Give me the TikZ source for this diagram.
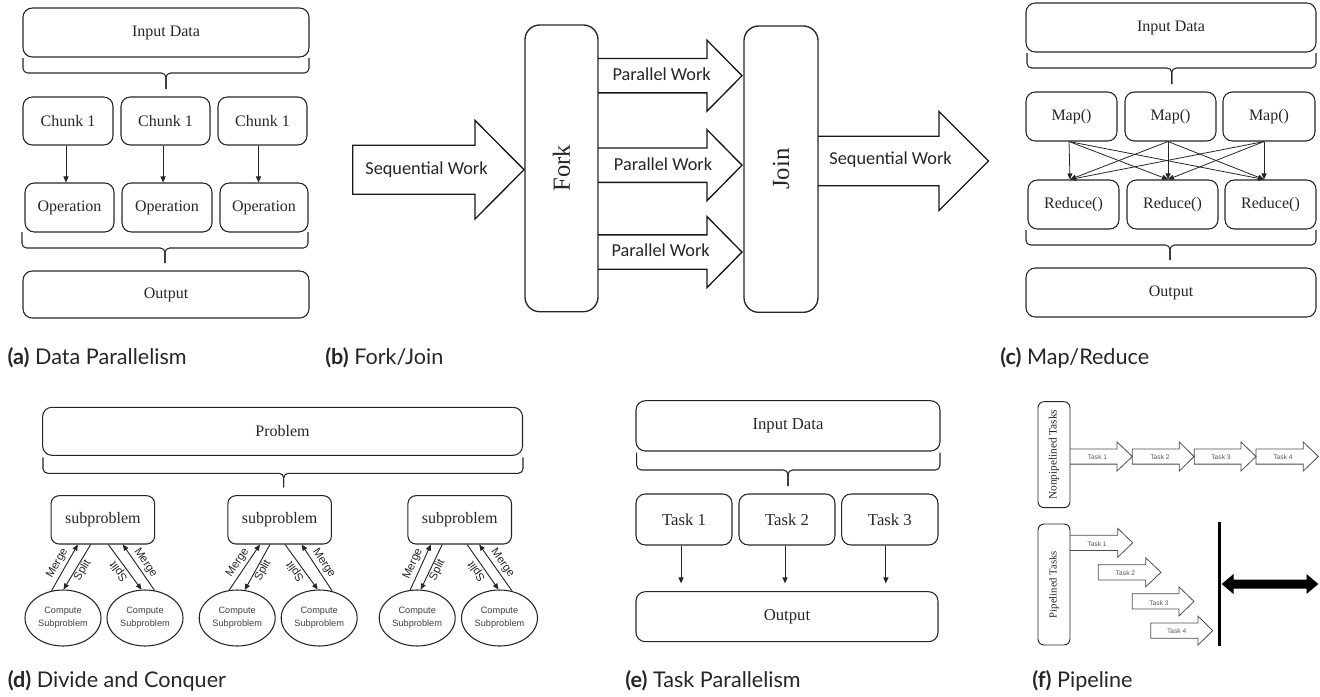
\documentclass[tikz,border=0pt]{standalone}
\usepackage{fontspec}
\setmainfont{Liberation Serif}
\newfontfamily\capfont{Lato}
\newfontfamily\arial{Liberation Sans}
\newfontfamily\aptos{Carlito}
\usetikzlibrary{arrows.meta,shapes.geometric,calc}
\newcommand\rbx[7][]{\node[rbox,#1,minimum width={((#5)-(#3))*0.75pt},minimum height={((#6)-(#4))*0.75pt}] (#2) at ({((#3)+(#5))/2},{((#4)+(#6))/2}) {#7};}
\newcommand\brc[6]{\draw[brc] (#1,#3) |- (#6,#4) -- (#6,#5); \draw[brc] (#2,#3) |- (#6,#4) -- (#6,#5);}
% block arrow: x0, head base, tip, centre y, shaft half, head half
\newcommand\barrowo[7][blk]{\draw[#1] (#2,#5-#6) -- (#3,#5-#6) -- (#3,#5-#7) -- (#4,#5) -- (#3,#5+#7) -- (#3,#5+#6) -- (#2,#5+#6);}
\newcommand\barrowc[7][blk]{\draw[#1] (#2,#5-#6) -- (#3,#5-#6) -- (#3,#5-#7) -- (#4,#5) -- (#3,#5+#7) -- (#3,#5+#6) -- (#2,#5+#6) -- cycle;}
\begin{document}
\begin{tikzpicture}[x=0.75pt,y=-0.75pt,
 rbox/.style={draw=black!85, line width=0.8pt, rounded corners=7pt, inner sep=0pt, text=black!85, font=\fontsize{12}{14}\selectfont},
 arr/.style={draw=black!85, line width=0.7pt, -{Triangle[length=4.5pt,width=3.8pt]}},
 arrR/.style={draw=black!85, line width=0.7pt, {Triangle[length=4.5pt,width=3.8pt]}-},
 brc/.style={draw=black!85, line width=0.8pt, rounded corners=3.5pt},
 blk/.style={draw=black!90, line width=1pt, line join=miter},
 seq/.style={font=\aptos\fontsize{13.7}{16}\selectfont, text=black!85},
 captxt/.style={anchor=base west, font=\capfont\fontsize{16.2}{19}\selectfont, text=black!85, inner sep=0pt},
 ell/.style={draw=black!85, line width=0.8pt, ellipse, minimum width=57pt, minimum height=42pt, inner sep=0pt, align=center, font=\arial\fontsize{6.9}{9.75}\selectfont, text=black!75},
 dlab/.style={font=\arial\fontsize{8.5}{10}\selectfont, text=black!85, inner sep=0.6pt},
 pbox/.style={rbox, rounded corners=4.5pt, line width=0.7pt},
 parr/.style={draw=black!70, line width=0.6pt, line join=miter},
 tlab/.style={font=\arial\fontsize{5}{6}\selectfont, text=black!65},
 ftxt/.style={rotate=90, font=\fontsize{18.5}{20}\selectfont, text=black!85},
]
\useasboundingbox (0,0) rectangle (1320,696);

% ---------------- (a) Data Parallelism
\rbx{a-in}{23}{8}{309}{57}{Input Data}
\brc{23}{309}{58}{73}{89}{166}
\rbx{a-c1}{23}{97}{113}{145}{Chunk 1}
\rbx{a-c2}{121}{97}{210}{145}{Chunk 1}
\rbx{a-c3}{218}{97}{307}{145}{Chunk 1}
\rbx{a-o1}{25}{183}{114}{232}{Operation}
\rbx{a-o2}{122}{183}{212}{232}{Operation}
\rbx{a-o3}{220}{183}{308}{232}{Operation}
\foreach \i/\s in {1/-1.5pt,2/-1.8pt,3/-3pt}
  \draw[arr] ([xshift=\s]a-c\i.south) -- ([xshift=\s]a-c\i.south |- a-o\i.north);
\brc{22}{308}{232}{248}{263}{165}
\rbx{a-out}{23}{271}{309}{318}{Output}
\node[captxt] (capa) at (7.3,364) {\textbf{(a)} Data Parallelism};

% ---------------- (b) Fork/Join
\rbx[rounded corners=11pt, line width=1pt]{fork}{525}{25}{598}{311.7}{}
\node[ftxt] (forkt) at (fork) {Fork};
\rbx[rounded corners=11pt, line width=1pt]{join}{744}{26}{818}{312.3}{}
\node[ftxt] (joint) at (join) {Join};
\barrowc{352.7}{475}{524}{169.7}{24.5}{49.3}
\node[seq] (sq1) at (426.5,169.3) {Sequential Work};
\barrowo{598}{707}{742}{75.7}{17.2}{35.5}
\node[seq] (pw1) at (661.7,74) {Parallel Work};
\barrowo{598}{707}{742}{165.2}{17.2}{35.5}
\node[seq] (pw2) at (663,164) {Parallel Work};
\barrowo{598}{707}{742}{252.1}{17.2}{35.5}
\node[seq] (pw3) at (660.7,250.5) {Parallel Work};
\barrowo{818}{939}{988.5}{161}{24.8}{49.5}
\node[seq] (sq2) at (890.6,159.3) {Sequential Work};
\node[captxt] (capb) at (325,364) {\textbf{(b)} Fork/Join};

% ---------------- (c) Map/Reduce
\rbx{c-in}{1026}{3}{1316}{52}{Input Data}
\brc{1027}{1316}{53}{68}{84}{1171.7}
\rbx{c-m1}{1026}{92}{1117}{141}{Map()}
\rbx{c-m2}{1125}{92}{1216}{141}{Map()}
\rbx{c-m3}{1223}{92}{1315}{141}{Map()}
\rbx{c-r1}{1028}{180}{1119}{229}{Reduce()}
\rbx{c-r2}{1127}{180}{1218}{229}{Reduce()}
\rbx{c-r3}{1225}{180}{1316}{229}{Reduce()}
\coordinate (ms1) at ($(c-m1.south)+(-2.5,0)$);
\coordinate (ms2) at ($(c-m2.south)+(-2.5,0)$);
\coordinate (ms3) at ($(c-m3.south)+(-5,0)$);
\coordinate (rt1) at ($(c-r1.north)+(-3.5,0)$);
\coordinate (rt2) at ($(c-r2.north)+(-4.5,0)$);
\coordinate (rt3) at ($(c-r3.north)+(-6.5,0)$);
\foreach \i in {1,2,3}{\foreach \j in {1,2,3}{\draw[arr, line width=0.6pt] (ms\i) -- (rt\j);}}
\brc{1026}{1316}{230}{245}{260}{1170}
\rbx{c-out}{1026}{268}{1316}{317}{Output}
\node[captxt] (capc) at (1000,364) {\textbf{(c)} Map/Reduce};

% ---------------- (d) Divide and Conquer
\rbx{d-p}{42.6}{407.3}{522.5}{455.3}{Problem}
\brc{43}{523}{457.3}{473.3}{487.3}{283.7}
\foreach \k/\bx/\el/\er/\ta/\tb/\tc/\td/\aa/\ab/\ac/\ad in
  {1/102.85/63/145/-25/-12.2/5.5/20/113.9/89.4/97.8/71.7,
   2/279.65/237.2/319.2/-19.7/-9.7/5.4/22/106.3/75.5/93.1/64.7,
   3/459.7/417.2/499.5/-28.9/-17.5/7.4/19.5/104.7/83.5/92.5/65.9}{
  \rbx[rounded corners=6pt]{d-s\k}{\bx-51.8}{495.7}{\bx+51.8}{544}{subproblem}
  \node[ell] (d-l\k) at (\el,618) {Compute\\Subproblem};
  \node[ell] (d-r\k) at (\er,618) {Compute\\Subproblem};
  \draw[arr] (d-l\k.\aa) -- node[dlab, sloped, above=1.4pt] {Merge} ($(d-s\k.south)+(\ta,0)$);
  \draw[arrR] (d-l\k.\ab) -- node[dlab, sloped, below] {Split} ($(d-s\k.south)+(\tb,0)$);
  \draw[arrR] (d-r\k.\ac) -- node[dlab, sloped, allow upside down, above=0.6pt] {Split} ($(d-s\k.south)+(\tc,0)$);
  \draw[arrR] ($(d-s\k.south)+(\td,0)$) -- node[dlab, sloped, above=1.4pt] {Merge} (d-r\k.\ad);
}
\node[captxt] (capd) at (7.6,687) {\textbf{(d)} Divide and Conquer};

% ---------------- (e) Task Parallelism
\rbx{e-in}{636}{400.7}{940}{451}{\fontsize{12.5}{14}\selectfont Input Data}
\brc{636.7}{940}{452.7}{470}{486}{788}
\rbx{e-t1}{636}{494}{732}{545}{\fontsize{12.5}{14}\selectfont Task 1}
\rbx{e-t2}{739}{494}{835}{545}{\fontsize{12.5}{14}\selectfont Task 2}
\rbx{e-t3}{841.7}{494}{938}{545}{\fontsize{12.5}{14}\selectfont Task 3}
\rbx{e-out}{636}{591.7}{938}{641.7}{\fontsize{12.5}{14}\selectfont Output}
\foreach \i/\s in {1/-2.2pt,2/-1.5pt,3/-3pt}
  \draw[arr, shorten >=5.8pt] ([xshift=\s]e-t\i.south) -- ([xshift=\s]e-t\i.south |- e-out.north);
\node[captxt] (cape) at (625,687) {\textbf{(e)} Task Parallelism};

% ---------------- (f) Pipeline
\rbx[pbox]{f-np}{1038}{401.7}{1070}{507.7}{}
\node[rotate=90, font=\fontsize{8.5}{10}\selectfont, text=black!85] (f-npt) at (f-np) {Nonpipelined Tasks};
\barrowo[parr]{1070}{1117}{1132.3}{456.5}{7.6}{14.5}
\barrowc[parr]{1132.3}{1179.3}{1194}{456.5}{7.6}{14.5}
\barrowc[parr]{1194.3}{1241}{1256}{456.5}{7.6}{14.5}
\barrowc[parr]{1256}{1303.3}{1318.3}{456.5}{7.6}{14.5}
\node[tlab] (fn1) at (1097.5,457.5) {Task 1};
\node[tlab] (fn2) at (1160,457.5) {Task 2};
\node[tlab] (fn3) at (1221,457.5) {Task 3};
\node[tlab] (fn4) at (1283,457.5) {Task 4};
\rbx[pbox]{f-p}{1038}{524}{1070}{645}{}
\node[rotate=90, font=\fontsize{8}{10}\selectfont, text=black!85] (f-pt) at (f-p) {Pipelined Tasks};
\barrowo[parr]{1070}{1117.7}{1132.7}{542.8}{7.6}{14.5}
\barrowc[parr]{1098.3}{1145.7}{1161}{572.3}{7.6}{14.5}
\barrowc[parr]{1132.3}{1179}{1194}{601.4}{7.6}{14.5}
\barrowc[parr]{1150.7}{1198}{1212.7}{630.6}{7.6}{14.5}
\node[tlab] (fp1) at (1097,544) {Task 1};
\node[tlab] (fp2) at (1125.5,573.3) {Task 2};
\node[tlab] (fp3) at (1159,602.7) {Task 3};
\node[tlab] (fp4) at (1176.7,631.5) {Task 4};
\draw[line width=1.9pt] (1219.5,521.7) -- (1219.5,646);
\fill[black] (1221.7,584) -- (1233.5,574) -- (1233.5,579.5) -- (1306.5,579.5) -- (1306.5,574) -- (1318.3,584) -- (1306.5,594) -- (1306.5,588.5) -- (1233.5,588.5) -- (1233.5,594) -- cycle;
\node[captxt] (capf) at (1032,687) {\textbf{(f)} Pipeline};
\end{tikzpicture}
\end{document}
